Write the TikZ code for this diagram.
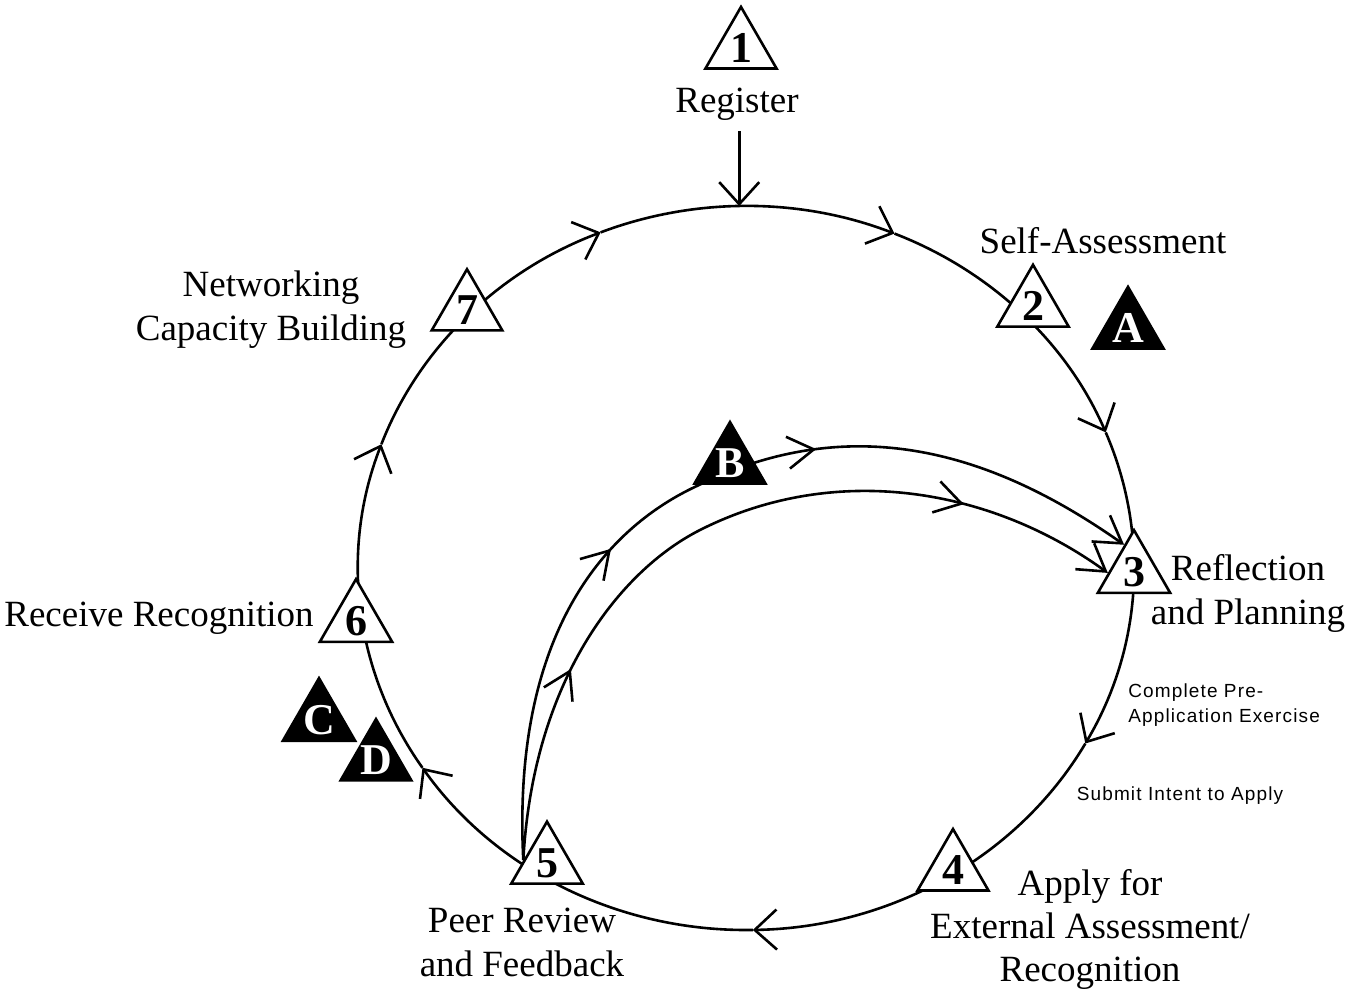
\documentclass[tikz,border=0pt]{standalone}
\usepackage{fontspec}
\setmainfont{Liberation Serif}
\newfontfamily\notefont{Liberation Sans}[LetterSpace=6]
\usetikzlibrary{shapes.geometric,arrows.meta,decorations.markings}
\pgfdeclarelayer{bg}
\pgfsetlayers{bg,main}
\begin{document}
\begin{tikzpicture}[x=0.5pt,y=-0.5pt,line width=1.3pt,
  tri/.style={regular polygon,regular polygon sides=3,minimum size=40.4pt,inner sep=0pt,draw,fill=white,line width=1.3pt,font=\fontsize{22pt}{24pt}\selectfont\bfseries},
  blk/.style={tri,fill=black,text=white},
  lbl/.style={inner sep=0pt,align=center,font=\fontsize{18.5pt}{22pt}\selectfont},
  note/.style={inner sep=0pt,align=left,font=\notefont\fontsize{9.5pt}{12.5pt}\selectfont},
  loopbarb/.style={-{Straight Barb[length=11pt,width=20pt]}},
  flowbarb/.style={-{Straight Barb[length=13pt,width=16pt]}},
  midbarbs/.style 2 args={decoration={markings,
     mark=at position #1 with {\arrow{Straight Barb[length=13pt,width=16pt]}},
     mark=at position #2 with {\arrow{Straight Barb[length=13pt,width=16pt]}}},postaction={decorate}}]
\useasboundingbox (0,0) rectangle (1362,992);

% stages
\node[tri] (t1) at (741,48) {\makebox[0pt]{1}};
\node[tri] (t2) at (1033,306) {\makebox[0pt]{2}};
\node[tri] (t3) at (1134,572) {\makebox[0pt]{3}};
\node[tri] (t4) at (953,870) {\makebox[0pt]{4}};
\node[tri] (t5) at (547,863) {\makebox[0pt]{5}};
\node[tri] (t6) at (356,621) {\makebox[0pt]{6}};
\node[tri] (t7) at (467,310) {\makebox[0pt]{7}};
\node[blk] (ta) at (1128,328) {\makebox[0pt]{A}};
\node[blk] (tb) at (730,463) {\makebox[0pt]{B}};
\node[blk] (tc) at (319,720) {\makebox[0pt]{C}};
\node[blk] (td) at (376,760) {\makebox[0pt]{D}};

% labels
\node[lbl,anchor=base] (reg) at (737,112) {Register};
\node[lbl,anchor=base] (self) at (1103,253) {Self-Assessment};
\node[lbl] (net) at (271,310) {Networking\\Capacity Building};
\node[lbl] (refl) at (1248,593) {Reflection\\and Planning};
\node[lbl,anchor=base] (recv) at (159,626) {Receive Recognition};
\node[lbl] (peer) at (522,942) {Peer Review\\and Feedback};
\node[lbl,font=\fontsize{18.5pt}{21.5pt}\selectfont] (apply) at (1090,929) {Apply for\\External Assessment/\\Recognition};
\node[note,anchor=west] (pre) at (1127,705) {Complete Pre-\\Application Exercise};
\node[note,anchor=base] (intent) at (1180,800) {Submit Intent to Apply};

\begin{pgfonlayer}{bg}
\begin{scope}[line width=1.3pt]
\coordinate (c) at (746,568);
\foreach \a/\b in {248/292.5,292.5/338,338/389,389/449,449/506.5,506.5/560,560/608}
  \draw[loopbarb] (c) ++(\a:388 and 362) arc[start angle=\a,end angle=\b,x radius=388,y radius=362];
\path (c) ++(269:388 and 362) coordinate (top);
\draw[loopbarb] ([yshift=-5pt]reg.south -| top) -- (top);

\draw[flowbarb,midbarbs={0.371}{0.631}] (t5.173) .. controls (512,640) and (600,530) .. (699,485)
  .. controls (861,406) and (1003,459.5) .. (t3.110);
\draw[flowbarb,midbarbs={0.241}{0.805}] (t5.173) .. controls (533,680) and (620,570.5) .. (700,530)
  .. controls (833.5,462.5) and (988.5,486.5) .. (t3.182);
\end{scope}
\end{pgfonlayer}
\end{tikzpicture}
\end{document}
